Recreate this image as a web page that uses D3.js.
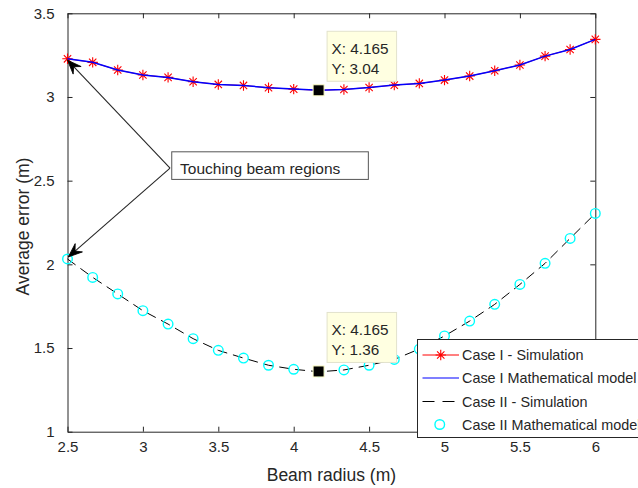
<!DOCTYPE html>
<html>
<head>
<meta charset="utf-8">
<script src="https://cdn.jsdelivr.net/npm/d3@7/dist/d3.min.js"></script>
<style>
  html, body { margin: 0; padding: 0; background: #ffffff; }
  svg { display: block; font-family: "Liberation Sans", Arial, Helvetica, sans-serif; }
</style>
</head>
<body>
<svg id="chart" width="638" height="488"></svg>
<script>
// ---------------- data ----------------
const beamRadius = [2.5, 2.667, 2.833, 3, 3.167, 3.333, 3.5, 3.667, 3.833, 4, 4.167,
                    4.333, 4.5, 4.667, 4.833, 5, 5.167, 5.333, 5.5, 5.667, 5.833, 6];
const case1Simulation = [3.228, 3.207, 3.161, 3.131, 3.117, 3.091, 3.075, 3.069, 3.055, 3.047, 3.040,
                         3.045, 3.057, 3.071, 3.081, 3.101, 3.125, 3.157, 3.191, 3.244, 3.284, 3.344];
const case1Model = [3.228, 3.207, 3.161, 3.131, 3.117, 3.091, 3.075, 3.069, 3.055, 3.047, 3.040,
                    3.045, 3.057, 3.071, 3.081, 3.101, 3.125, 3.157, 3.191, 3.244, 3.284, 3.344];
const case2Simulation = [2.032, 1.922, 1.823, 1.723, 1.643, 1.556, 1.486, 1.440, 1.397, 1.373, 1.358,
                         1.369, 1.397, 1.432, 1.494, 1.572, 1.661, 1.761, 1.880, 2.006, 2.155, 2.304];
const case2Model = [2.032, 1.922, 1.823, 1.723, 1.643, 1.556, 1.486, 1.440, 1.397, 1.373, 1.358,
                    1.369, 1.397, 1.432, 1.494, 1.572, 1.661, 1.761, 1.880, 2.006, 2.155, 2.304];
const xTicks = [2.5, 3, 3.5, 4, 4.5, 5, 5.5, 6];
const xTickLabels = ["2.5", "3", "3.5", "4", "4.5", "5", "5.5", "6"];
const yTicks = [1, 1.5, 2, 2.5, 3, 3.5];
const yTickLabels = ["1", "1.5", "2", "2.5", "3", "3.5"];
const seriesNames = ["Case I - Simulation", "Case I Mathematical model",
                     "Case II - Simulation", "Case II Mathematical model"];
const dataTips = [{x: 4.165, y: 3.04, label: ["X: 4.165", "Y: 3.04"]},
                  {x: 4.165, y: 1.36, label: ["X: 4.165", "Y: 1.36"]}];
const annotationText = "Touching beam regions";
const arrowTargets = [{x: 2.5, y: 3.22}, {x: 2.505, y: 2.044}];
const arrowOrigin = {x: 3.18, y: 2.575};
const xLabel = "Beam radius (m)";
const yLabel = "Average error (m)";

// ---------------- layout ----------------
const svg = d3.select("#chart");
const L = 67.5, R = 595.3, T = 13.3, B = 431.7;
const axisColor = "#262626";
const x = d3.scaleLinear().domain([2.5, 6]).range([L, R]);
const y = d3.scaleLinear().domain([1, 3.5]).range([B, T]);

svg.append("rect").attr("width", 638).attr("height", 488).attr("fill", "#fff");

// ---------------- axes (box with inward ticks) ----------------
const tickLen = 5;
const bottomAxis = d3.axisBottom(x).tickValues(xTicks).tickSize(-tickLen)
  .tickFormat((d, i) => xTickLabels[i]).tickSizeOuter(0).tickPadding(10);
const topAxis = d3.axisTop(x).tickValues(xTicks).tickSize(-tickLen).tickFormat("").tickSizeOuter(0);
const leftAxis = d3.axisLeft(y).tickValues(yTicks).tickSize(-tickLen)
  .tickFormat((d, i) => yTickLabels[i]).tickSizeOuter(0).tickPadding(13);
const rightAxis = d3.axisRight(y).tickValues(yTicks).tickSize(-tickLen).tickFormat("").tickSizeOuter(0);

function styleAxis(g) {
  g.select(".domain").attr("stroke", axisColor).attr("stroke-width", 1);
  g.selectAll(".tick line").attr("stroke", axisColor).attr("stroke-width", 1);
  g.selectAll(".tick text").attr("fill", axisColor).style("font-size", "15px")
    .style("font-family", '"Liberation Sans", Arial, sans-serif');
}
svg.append("g").attr("transform", `translate(0,${B})`).call(bottomAxis).call(styleAxis);
svg.append("g").attr("transform", `translate(0,${T})`).call(topAxis).call(styleAxis);
svg.append("g").attr("transform", `translate(${L},0)`).call(leftAxis).call(styleAxis);
svg.append("g").attr("transform", `translate(${R},0)`).call(rightAxis).call(styleAxis);

// axis labels
svg.append("text").attr("x", (L + R) / 2).attr("y", 481).attr("text-anchor", "middle")
  .attr("fill", axisColor).style("font-size", "17.5px").text(xLabel);
svg.append("text").attr("transform", `translate(29,${(T + B) / 2 + 4}) rotate(-90)`)
  .attr("text-anchor", "middle").attr("fill", axisColor).style("font-size", "17.5px").text(yLabel);

// ---------------- series ----------------
const plot = svg.append("g");
const line = d3.line().x(d => x(d[0])).y(d => y(d[1]));
const c1s = beamRadius.map((r, i) => [r, case1Simulation[i]]);
const c1m = beamRadius.map((r, i) => [r, case1Model[i]]);
const c2s = beamRadius.map((r, i) => [r, case2Simulation[i]]);
const c2m = beamRadius.map((r, i) => [r, case2Model[i]]);

function starPath(s) {
  const d = s * 0.707;
  return `M0,${-s}L0,${s}M${-s},0L${s},0M${-d},${-d}L${d},${d}M${-d},${d}L${d},${-d}`;
}

// Case I simulation: red line + stars
plot.append("path").datum(c1s).attr("d", line).attr("fill", "none")
  .attr("stroke", "#ff0000").attr("stroke-width", 0.8);
plot.selectAll(".star").data(c1s).enter().append("path").attr("class", "star")
  .attr("transform", d => `translate(${x(d[0])},${y(d[1])})`)
  .attr("d", starPath(5.2)).attr("stroke", "#ff0000").attr("stroke-width", 1.1).attr("fill", "none");
// Case I model: blue line
plot.append("path").datum(c1m).attr("d", line).attr("fill", "none")
  .attr("stroke", "#0000ff").attr("stroke-width", 1.5);
// Case II simulation: black dashed line
plot.append("path").datum(c2s).attr("d", line).attr("fill", "none")
  .attr("stroke", "#000000").attr("stroke-width", 1).attr("stroke-dasharray", "10,6");
// Case II model: cyan circles
plot.selectAll(".circ").data(c2m).enter().append("circle").attr("class", "circ")
  .attr("cx", d => x(d[0])).attr("cy", d => y(d[1])).attr("r", 4.8)
  .attr("fill", "none").attr("stroke", "#00ffff").attr("stroke-width", 1.4);

// ---------------- annotation ----------------
const ox = x(arrowOrigin.x), oy = y(arrowOrigin.y);
arrowTargets.forEach(t => {
  const tx = x(t.x), ty = y(t.y);
  const ang = Math.atan2(ty - oy, tx - ox);
  const hl = 14, hw = 5.5, notch = 9;
  svg.append("line").attr("x1", ox).attr("y1", oy)
    .attr("x2", tx - Math.cos(ang) * notch).attr("y2", ty - Math.sin(ang) * notch)
    .attr("stroke", "#262626").attr("stroke-width", 1.1);
  svg.append("path")
    .attr("d", `M0,0L${-hl},${-hw}L${-notch},0L${-hl},${hw}Z`)
    .attr("transform", `translate(${tx},${ty}) rotate(${ang * 180 / Math.PI})`)
    .attr("fill", "#000").attr("stroke", "#000").attr("stroke-width", 0.8);
});
svg.append("rect").attr("x", ox + 1.7).attr("y", oy - 16.3).attr("width", 196.6).attr("height", 27.6)
  .attr("fill", "#fff").attr("stroke", "#555").attr("stroke-width", 1);
svg.append("text").attr("x", ox + 10).attr("y", oy + 5.7).attr("fill", axisColor)
  .style("font-size", "15.5px").text(annotationText);

// ---------------- data tips ----------------
dataTips.forEach(dt => {
  const sx = x(dt.x), sy = y(dt.y);
  const bx = sx + 8.5, by = sy - 9 - 50;
  svg.append("rect").attr("x", bx).attr("y", by).attr("width", 69.5).attr("height", 50)
    .attr("fill", "#ffffe1").attr("stroke", "#e2e2cc").attr("stroke-width", 1);
  dt.label.forEach((s, i) => {
    svg.append("text").attr("x", bx + 4.5).attr("y", by + 22.5 + i * 20).attr("fill", axisColor)
      .style("font-size", "15.3px").text(s);
  });
  svg.append("rect").attr("x", sx - 5.5).attr("y", sy - 5.5).attr("width", 11).attr("height", 11)
    .attr("fill", "#000").attr("stroke", "#ffffc8").attr("stroke-width", 1);
});

// ---------------- legend ----------------
const lg = svg.append("g");
lg.append("rect").attr("x", 417.5).attr("y", 339.5).attr("width", 240).attr("height", 98)
  .attr("fill", "#fff").attr("stroke", axisColor).attr("stroke-width", 1);
const rowY = [355, 378, 401.5, 424.5];
const lx1 = 422.5, lx2 = 459, lxm = (lx1 + lx2) / 2;
// row 0
lg.append("line").attr("x1", lx1).attr("x2", lx2).attr("y1", rowY[0]).attr("y2", rowY[0])
  .attr("stroke", "#ff0000").attr("stroke-width", 1);
lg.append("path").attr("transform", `translate(${lxm},${rowY[0]})`).attr("d", starPath(5.2))
  .attr("stroke", "#ff0000").attr("stroke-width", 1.1).attr("fill", "none");
// row 1
lg.append("line").attr("x1", lx1).attr("x2", lx2).attr("y1", rowY[1]).attr("y2", rowY[1])
  .attr("stroke", "#0000ff").attr("stroke-width", 1.1);
// row 2
lg.append("line").attr("x1", lx1).attr("x2", lx2 - 4).attr("y1", rowY[2]).attr("y2", rowY[2])
  .attr("stroke", "#000").attr("stroke-width", 1).attr("stroke-dasharray", "12,8");
// row 3
lg.append("circle").attr("cx", lxm - 1).attr("cy", rowY[3]).attr("r", 4.8)
  .attr("fill", "none").attr("stroke", "#00ffff").attr("stroke-width", 1.4);
seriesNames.forEach((n, i) => {
  lg.append("text").attr("x", 462).attr("y", rowY[i] + 5.2).attr("fill", axisColor)
    .style("font-size", "14.4px").text(n);
});
</script>
</body>
</html>
